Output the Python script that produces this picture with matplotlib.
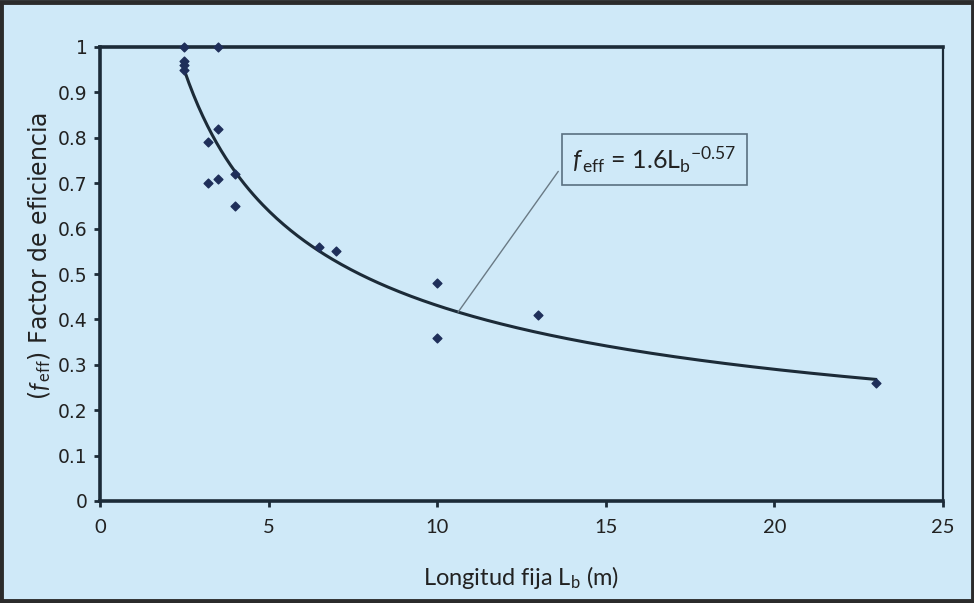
import numpy as np
import matplotlib.pyplot as plt
from matplotlib.patches import Rectangle

plt.rcParams['font.family'] = ['Lato', 'DejaVu Sans']
plt.rcParams['mathtext.fontset'] = 'custom'
plt.rcParams['mathtext.rm'] = 'Lato'
plt.rcParams['mathtext.it'] = 'Lato:italic'

# ===== datos =====
longitud = [2.5, 3.5, 2.5, 2.5, 2.5, 3.5, 3.2, 4.0, 3.5, 3.2, 4.0,
            6.5, 7.0, 10.0, 10.0, 13.0, 23.0]
factor = [1.00, 1.00, 0.97, 0.96, 0.95, 0.82, 0.79, 0.72, 0.71, 0.70, 0.65,
          0.56, 0.55, 0.48, 0.36, 0.41, 0.26]
coef_a = 1.6
coef_b = -0.57
x_ticks = [0, 5, 10, 15, 20, 25]
y_ticks = [0, 0.1, 0.2, 0.3, 0.4, 0.5, 0.6, 0.7, 0.8, 0.9, 1]
y_labels = ['0', '0.1', '0.2', '0.3', '0.4', '0.5', '0.6', '0.7', '0.8', '0.9', '1']

bg = '#cfe9f8'
dark = '#1c2b38'
txt = '#222222'

fig = plt.figure(figsize=(9.74, 6.03), dpi=100, facecolor=bg)
ax = fig.add_axes([100/974, 1 - 501/603, 843/974, 454/603])
ax.set_facecolor(bg)

# marco exterior
fig.patches.append(Rectangle((0.0015, 0.0025), 0.997, 0.995, transform=fig.transFigure,
                             fill=False, edgecolor='#2b2b2b', linewidth=3.5))

# curva de ajuste
xc = np.linspace(2.5, 23, 300)
ax.plot(xc, coef_a * xc ** coef_b, color=dark, linewidth=2.2, zorder=2)

# puntos
ax.scatter(longitud, factor, marker='D', s=20, color='#1f2f5a', zorder=3,
           clip_on=False)

# anotacion
ax.annotate(r'$\mathit{f}_{\,\mathrm{eff}}$ = 1.6L$_{\mathrm{b}}$$^{-0.57}$',
            xy=(10.62, coef_a * 10.62 ** coef_b), xytext=(14.0, 0.752),
            fontsize=18, color=txt, va='center', ha='left',
            bbox=dict(boxstyle='square,pad=0.4', fc=bg, ec='#5a7080', lw=1.2),
            arrowprops=dict(arrowstyle='-', color='#6a7a85', lw=1.0,
                            shrinkA=4, shrinkB=0,
                            relpos=(0.0, 0.75)))

ax.set_xlim(0, 25)
ax.set_ylim(0, 1)
ax.set_xticks(x_ticks)
ax.set_yticks(y_ticks)
ax.set_yticklabels(y_labels, fontfamily='DejaVu Sans', fontsize=13.5)
ax.tick_params(axis='x', labelsize=14.5, pad=9)
ax.tick_params(axis='y', pad=5)
ax.tick_params(axis='both', colors=txt, direction='out', length=4, width=2)
ax.tick_params(axis='both', color=dark)

for s in ['left', 'bottom', 'top']:
    ax.spines[s].set_linewidth(2.6)
    ax.spines[s].set_color(dark)
ax.spines['right'].set_linewidth(1.6)
ax.spines['right'].set_color(dark)

ax.set_xlabel(r'Longitud fija L$_{\mathrm{b}}$ (m)', fontsize=17, color=txt, labelpad=20)
ax.set_ylabel(r'($\mathit{f}_{\,\mathrm{eff}}$) Factor de eficiencia', fontsize=17,
              fontfamily='DejaVu Sans', color=txt)
ax.yaxis.set_label_coords(-0.056, 0.54)

fig.savefig('out.png', dpi=100, facecolor=bg)
